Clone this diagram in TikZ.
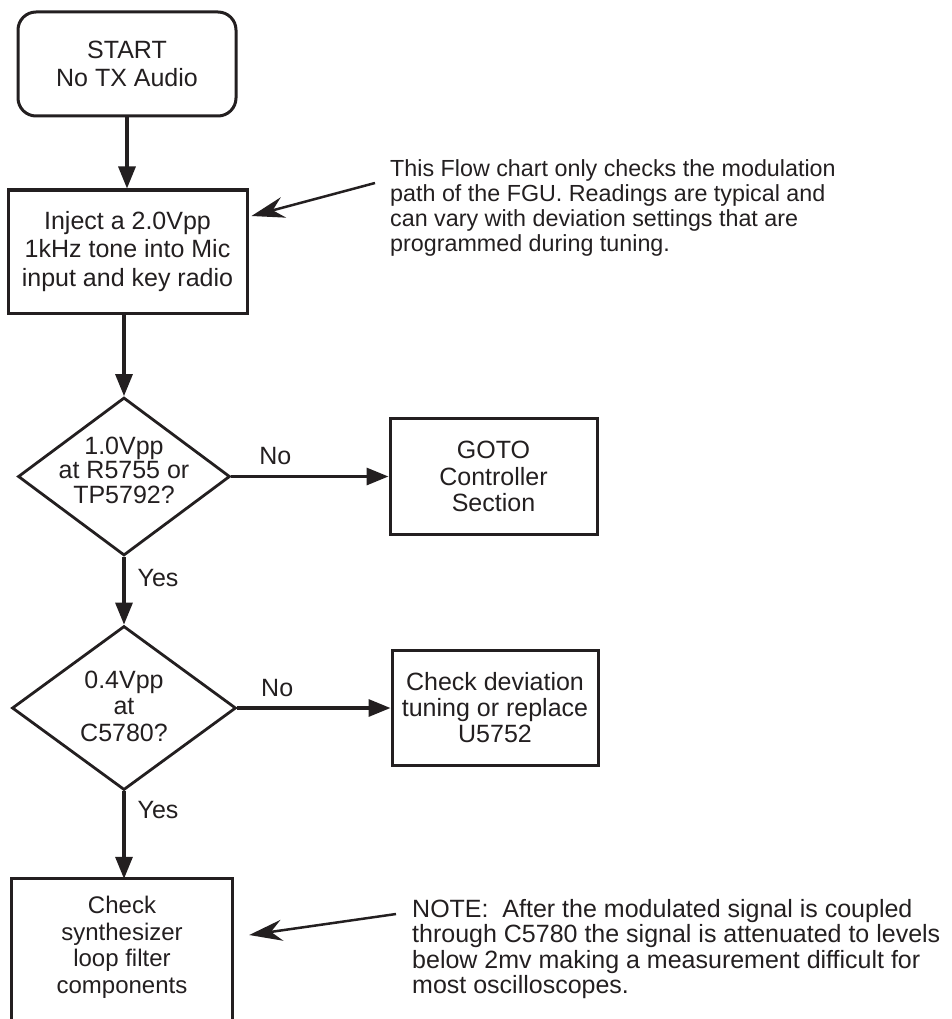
\documentclass[tikz,border=0pt]{standalone}
\usepackage{fontspec}
\setmainfont{Liberation Sans}
\usepackage{tikz}
\usetikzlibrary{arrows.meta,positioning,shapes.geometric}
\definecolor{ChartInk}{HTML}{231F20}

\begin{document}
\begin{tikzpicture}[x=1pt,y=-1pt,
  every node/.style={align=center,inner sep=0pt,text=ChartInk},
  boxtext/.style={font=\fontsize{25}{28.5}\selectfont},
  block/.style={boxtext,draw=ChartInk,line width=3pt},
  terminal/.style={block,rounded corners=18pt},
  decision/.style={diamond,draw=ChartInk,line width=2.8pt},
  flow/.style={-{Triangle[length=22pt,width=17pt]},draw=ChartInk,line width=3.2pt},
  pointer/.style={-{Stealth[length=33pt,width=21pt,inset=11pt]},draw=ChartInk,line width=2.5pt},
  remark/.style={align=left,anchor=north west}
]
  \useasboundingbox (0,0) rectangle (951,1019);
  \clip (0,0) rectangle (951,1019);

  \node[terminal,minimum width=218pt,minimum height=104pt] (start) at (127,64)
    {START\\No TX Audio};
  \node[block,minimum width=239pt,minimum height=123pt] (inject) at (127.5,251.5)
    {Inject a 2.0Vpp\\1kHz tone into Mic\\input and key radio};
  \node[decision,minimum width=212pt,minimum height=158pt] (chk1) at (124,476.5) {};
  \node[font=\fontsize{25}{24.5}\selectfont] (chk1txt) at (124,470)
    {1.0Vpp\\at R5755 or\\TP5792?};
  \node[block,font=\fontsize{25}{26.5}\selectfont,minimum width=207pt,minimum height=116pt]
    (goto) at (493.5,476.5) {GOTO\\Controller\\Section};
  \node[decision,minimum width=224pt,minimum height=164pt] (chk2) at (124,708) {};
  \node[font=\fontsize{25}{26.5}\selectfont] (chk2txt) at (124,706)
    {0.4Vpp\\at\\C5780?};
  \node[block,font=\fontsize{25}{26}\selectfont,minimum width=206pt,minimum height=115pt]
    (dev) at (495,708) {Check deviation\\tuning or replace\\U5752};
  \node[font=\fontsize{24}{26.5}\selectfont,minimum width=220pt,minimum height=137pt]
    (filter) at (122,947.5) {Check\\synthesizer\\loop filter\\components};
  \draw[ChartInk,line width=3pt] ([yshift=-14pt]filter.south west) |- (filter.north east)
    -- ([yshift=-14pt]filter.south east);

  \node[remark,font=\fontsize{23.3}{25}\selectfont] (note1) at (390,159)
    {This Flow chart only checks the modulation\\path of the FGU. Readings are typical and\\
     can vary with deviation settings that are\\programmed during tuning.};
  \node[remark,font=\fontsize{25}{25.5}\selectfont] (note2) at (412,899)
    {NOTE:\ \ After the modulated signal is coupled\\through C5780 the signal is attenuated to levels\\
     below 2mv making a measurement difficult for\\most oscilloscopes.};

  \draw[flow] (start.south) -- (start.south |- inject.north);
  \draw[flow] (inject.south -| chk1.north) -- (chk1.north);
  \draw[flow] (chk1.east) -- node[pos=0.28,above=10pt,boxtext]{No} (chk1.east -| goto.west);
  \draw[flow] (chk1.south) -- node[pos=0.31,right=12pt,boxtext]{Yes} (chk2.north);
  \draw[flow] (chk2.east) -- node[pos=0.26,above=10pt,boxtext]{No} (chk2.east -| dev.west);
  \draw[flow] (chk2.south) -- node[pos=0.21,right=12pt,boxtext]{Yes} (chk2.south |- filter.north);
  \draw[pointer] ([xshift=-15pt,yshift=-24pt]note1.north west) -- ([xshift=3pt,yshift=35.5pt]inject.east);
  \draw[pointer] ([xshift=-16pt,yshift=-15pt]note2.north west) -- ([xshift=17pt,yshift=12.5pt]filter.east);
\end{tikzpicture}
\end{document}
